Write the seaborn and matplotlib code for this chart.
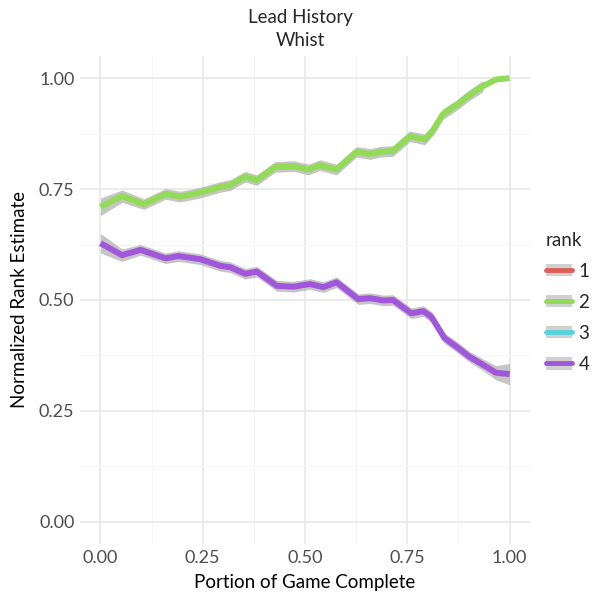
import numpy as np
import pandas as pd
import seaborn as sns
import matplotlib
matplotlib.use("Agg")
import matplotlib.pyplot as plt
from matplotlib.patches import Patch
from matplotlib.lines import Line2D
from matplotlib.ticker import MultipleLocator

# ---- data ----
x_r2 = [0.0, 0.053, 0.106, 0.159, 0.195, 0.244, 0.293, 0.317, 0.354, 0.382, 0.427, 0.472,
        0.508, 0.537, 0.577, 0.626, 0.659, 0.683, 0.715, 0.756, 0.793, 0.813, 0.837, 0.870,
        0.902, 0.935, 0.967, 1.0]
y_r2 = [0.710, 0.734, 0.716, 0.739, 0.733, 0.742, 0.755, 0.759, 0.778, 0.770, 0.800, 0.802,
        0.794, 0.804, 0.794, 0.834, 0.829, 0.834, 0.836, 0.869, 0.862, 0.883, 0.919, 0.939,
        0.962, 0.982, 0.997, 1.000]
se_r2 = [0.020, 0.014, 0.012, 0.012, 0.012, 0.012, 0.012, 0.012, 0.012, 0.012, 0.012, 0.012,
         0.012, 0.012, 0.012, 0.012, 0.012, 0.012, 0.012, 0.012, 0.012, 0.012, 0.012, 0.012,
         0.012, 0.013, np.nan, np.nan]

x_r4 = [0.0, 0.053, 0.098, 0.159, 0.191, 0.244, 0.293, 0.317, 0.354, 0.382, 0.431, 0.472,
        0.512, 0.545, 0.577, 0.630, 0.659, 0.691, 0.715, 0.760, 0.789, 0.809, 0.841, 0.870,
        0.902, 0.935, 0.967, 1.0]
y_r4 = [0.628, 0.601, 0.613, 0.594, 0.599, 0.592, 0.577, 0.574, 0.559, 0.564, 0.532, 0.530,
        0.536, 0.529, 0.540, 0.502, 0.504, 0.499, 0.500, 0.470, 0.475, 0.462, 0.414, 0.395,
        0.372, 0.354, 0.336, 0.333]
se_r4 = [0.022, 0.014, 0.012, 0.012, 0.012, 0.012, 0.012, 0.012, 0.012, 0.012, 0.012, 0.012,
         0.012, 0.012, 0.012, 0.012, 0.012, 0.012, 0.012, 0.012, 0.012, 0.012, 0.012, 0.012,
         0.012, 0.013, 0.016, 0.024]

ranks = ["1", "2", "3", "4"]
x_ticks = [0.0, 0.25, 0.5, 0.75, 1.0]
y_ticks = [0.0, 0.25, 0.5, 0.75, 1.0]

df = pd.concat([
    pd.DataFrame({"x": x_r2, "y": y_r2, "se": se_r2, "rank": "2"}),
    pd.DataFrame({"x": x_r4, "y": y_r4, "se": se_r4, "rank": "4"}),
], ignore_index=True)

# ---- style ----
sns.set_theme(style="white")
plt.rcParams["font.family"] = ["Lato", "DejaVu Sans"]

palette = dict(zip(ranks, sns.color_palette("hls", 4)))

fig = plt.figure(figsize=(6, 6), dpi=100)
ax = fig.add_axes([80/600, 56/600, 450/600, 488/600])

for r, g in df.groupby("rank"):
    ax.fill_between(g["x"], g["y"] - g["se"], g["y"] + g["se"],
                    color="#a6a6a6", alpha=0.65, linewidth=0, zorder=2)

sns.lineplot(data=df, x="x", y="y", hue="rank", hue_order=ranks, palette=palette,
             linewidth=4.3, ax=ax, legend=False, zorder=3, estimator=None, sort=True,
             solid_joinstyle="round", solid_capstyle="butt")

ax.set_xlim(-0.05, 1.05)
ax.set_ylim(-0.05, 1.05)
ax.set_xticks(x_ticks)
ax.set_yticks(y_ticks)
ax.set_xticklabels([f"{v:.2f}" for v in x_ticks])
ax.set_yticklabels([f"{v:.2f}" for v in y_ticks])
ax.xaxis.set_minor_locator(MultipleLocator(0.125))
ax.yaxis.set_minor_locator(MultipleLocator(0.125))
ax.grid(True, which="major", color="#e5e5e5", linewidth=1.1, zorder=0)
ax.grid(True, which="minor", color="#f4f4f4", linewidth=0.6, zorder=0)
ax.set_axisbelow(True)
for s in ax.spines.values():
    s.set_visible(False)
ax.tick_params(axis="both", which="both", length=0, labelsize=13, labelcolor="#4d4d4d", pad=4)

ax.set_xlabel("Portion of Game Complete", fontsize=13.5, color="black", labelpad=6)
ax.set_ylabel("Normalized Rank Estimate", fontsize=13.5, color="black", labelpad=8)
fig.text(0.5, 1 - 17/600, "Lead History", ha="center", va="center", fontsize=13.5)
fig.text(0.5, 1 - 40/600, "Whist", ha="center", va="center", fontsize=13.5)

handles = [(Patch(facecolor="#d0d0d0", edgecolor="none"),
            Line2D([], [], color=palette[r], linewidth=3.5)) for r in ranks]
leg = fig.legend(handles, ranks, title="rank", loc="upper left",
                 bbox_to_anchor=(540/600, 1 - 226/600), frameon=False,
                 fontsize=13.5, title_fontsize=13.5, handlelength=1.4, handleheight=0.65,
                 labelspacing=0.75, handletextpad=0.35, alignment="left",
                 borderaxespad=0, borderpad=0.3)

fig.savefig("out.png", dpi=100, facecolor="white")
